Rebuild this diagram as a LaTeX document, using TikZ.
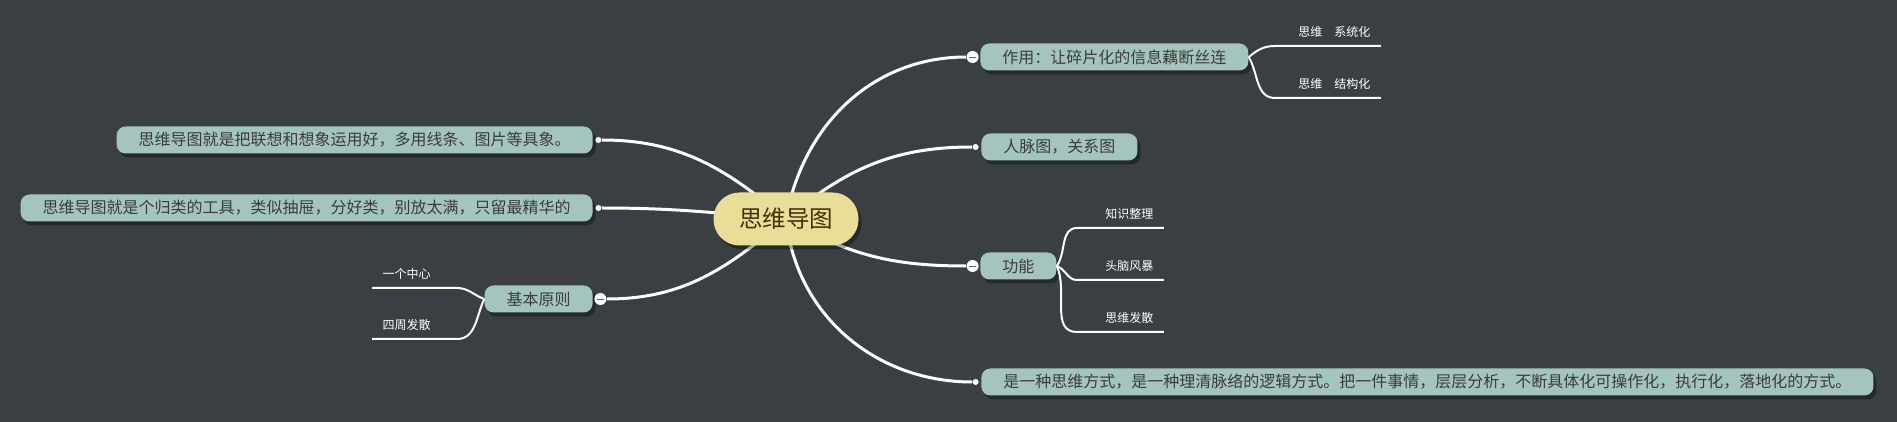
\documentclass[tikz,border=0pt]{standalone}
\usepackage{fontspec}
\newfontfamily\cjk{Noto Sans CJK SC}
\usepackage{tikz}
\usetikzlibrary{positioning,shadows}
\definecolor{canvasgrey}{HTML}{393F43}
\definecolor{topicgreen}{HTML}{A3C5BD}
\definecolor{topicink}{HTML}{3C3C3C}
\definecolor{hubyellow}{HTML}{E9DE98}
\definecolor{hubink}{HTML}{3E3208}
\pgfdeclarelayer{canvas}
\pgfdeclarelayer{wires}
\pgfsetlayers{canvas,wires,main}
\tikzset{
  hub/.style={rectangle,rounded corners=13pt,fill=hubyellow,text=hubink,
    font=\cjk\fontsize{11.75pt}{13pt}\selectfont,minimum height=26.5pt,inner xsep=12.75pt,
    drop shadow={shadow xshift=1.5pt,shadow yshift=-2pt,opacity=0.35,fill=black}},
  topic/.style={rectangle,rounded corners=4.5pt,fill=topicgreen,text=topicink,
    font=\cjk\fontsize{8pt}{9pt}\selectfont,minimum height=13.5pt,inner xsep=11pt,inner ysep=1pt,
    drop shadow={shadow xshift=1.5pt,shadow yshift=-2pt,opacity=0.35,fill=black}},
  fold/.style={circle,fill=white,inner sep=0pt,minimum size=6pt,
    path picture={\draw[topicink!80,line width=0.45pt] ([xshift=-1.9pt]path picture bounding box.center) -- ([xshift=1.9pt]path picture bounding box.center);}},
  dot/.style={circle,fill=white,inner sep=0pt,minimum size=3pt},
  twig/.style={font=\cjk\fontsize{6pt}{7pt}\selectfont,text=white,inner xsep=5pt,inner ysep=4pt},
  twigR/.style={twig,anchor=south west,align=right},
  twigL/.style={twig,anchor=south east,align=left},
  branch/.style={draw=white,line width=1.5pt},
  twigline/.style={draw=white,line width=1pt}
}
\begin{document}
\begin{tikzpicture}[x=0.5pt,y=-0.5pt]
            \useasboundingbox (0,0) rectangle (1897,422);
            \begin{pgfonlayer}{canvas}
            \fill[canvasgrey] (0,0) rectangle (1897,422);
            \end{pgfonlayer}
            \node (hub) at (786,219)[hub]{思维导图};
            \node (zy) at (980,57)[topic,anchor=west]{作用：让碎片化的信息藕断丝连};
            \node (rm) at (981,147)[topic,anchor=west]{人脉图，关系图};
            \node (gn) at (980,266)[topic,anchor=west]{功能};
            \node (fs) at (981,382)[topic,anchor=west]{是一种思维方式，是一种理清脉络的逻辑方式。把一件事情，层层分析，不断具体化可操作化，执行化，落地化的方式。};
            \node (l1) at (593,140)[topic,anchor=east]{思维导图就是把联想和想象运用好，多用线条、图片等具象。};
            \node (l2) at (593,208)[topic,anchor=east]{思维导图就是个归类的工具，类似抽屉，分好类，别放太满，只留最精华的};
            \node (jb) at (593,299)[topic,anchor=east]{基本原则};
            \node (zyf)[fold,left=0.5pt of zy]{};
            \node (gnf)[fold,left=0.5pt of gn]{};
            \node (jbf)[fold,right=0.5pt of jb]{};
            \node (rmd)[dot,left=1pt of rm]{};
            \node (fsd)[dot,left=1pt of fs]{};
            \node (l1d)[dot,right=1pt of l1]{};
            \node (l2d)[dot,right=1pt of l2]{};
            \node (z1) at (1275,46)[twigR,text width=42.5pt]{思维　系统化};
            \node (z2) at (1275,98)[twigR,text width=42.5pt]{思维　结构化};
            \node (g1) at (1077,228)[twigR,text width=33pt]{知识整理};
            \node (g2) at (1077,280)[twigR,text width=33pt]{头脑风暴};
            \node (g3) at (1077,332)[twigR,text width=33pt]{思维发散};
            \node (j1) at (457,288)[twigL,text width=32pt]{一个中心};
            \node (j2) at (457,339)[twigL,text width=32pt]{四周发散};
            \begin{pgfonlayer}{wires}
            \draw[branch] (hub.center) to[out=80,in=180] (zyf);
            \draw[branch] (hub.center) to[out=40,in=180] (rmd);
            \draw[branch] (hub.center) to[out=-30,in=180] (gnf);
            \draw[branch] (hub.center) to[out=-84,in=180] (fsd);
            \draw[branch] (hub.center) to[out=140,in=0] (l1d);
            \draw[branch] (hub.center) to[out=175,in=0] (l2d);
            \draw[branch] (hub.center) to[out=-140,in=0] (jbf);
            \end{pgfonlayer}
            \draw[twigline] (zy.east) to[out=40,in=180] (z1.south west) -- (z1.south east);
            \draw[twigline] (zy.east) to[out=-60,in=180] (z2.south west) -- (z2.south east);
            \draw[twigline] (gn.east) to[out=55,in=180] (g1.south west) -- (g1.south east);
            \draw[twigline] (gn.east) to[out=-20,in=180] (g2.south west) -- (g2.south east);
            \draw[twigline] (gn.east) to[out=-65,in=180] (g3.south west) -- (g3.south east);
            \draw[twigline] (jb.west) to[out=160,in=0] (j1.south east) -- (j1.south west);
            \draw[twigline] (jb.west) to[out=-115,in=0] (j2.south east) -- (j2.south west);
\end{tikzpicture}
\end{document}
